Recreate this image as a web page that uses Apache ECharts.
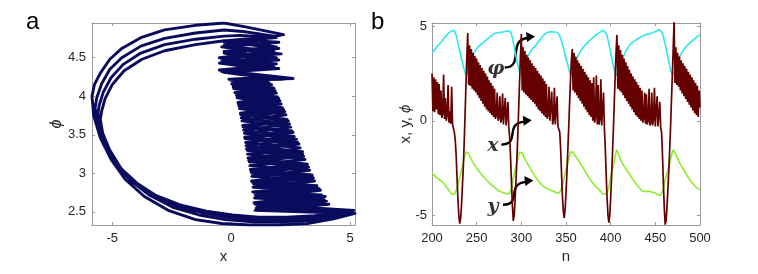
<!DOCTYPE html>
<html>
<head>
<meta charset="utf-8">
<script src="https://cdn.jsdelivr.net/npm/echarts@6/dist/echarts.min.js"></script>
<style>
html,body{margin:0;padding:0;background:#fff;}
#c{width:758px;height:274px;}
</style>
</head>
<body>
<div id="c"></div>
<script>
// ---- panel b: time series over n ----
const nStart = 200, nEnd = 500;
const n = [];
for (let k = nStart; k <= nEnd; k++) n.push(k);

const xs = [
  2.5, 0.5, 2.3, 0.45, 2.2, 0.6, 2.05, 0.35, 1.95, 0.3,
  1.6, 0.15, 0.4, 2.45, 0.1, 1.2, 0.0, 0.3, 1.9, -0.1,
  0.5, -0.15, 1.8, -0.2, -0.3, -0.6, -1.0, -1.8, -3.0, -4.1,
  -5.0, -5.45, -5.2, -4.5, -3.5, -2.5, -1.2, 0.3, 1.9, 3.4,
  4.65, 1.9, 4.0, 1.85, 3.8, 1.7, 3.6, 1.6, 3.45, 1.5,
  3.3, 1.35, 3.1, 1.2, 2.95, 1.05, 2.8, 0.9, 2.65, 0.75,
  2.5, 0.6, 2.35, 0.5, 2.15, 0.4, 2.0, 0.3, 1.85, 0.2,
  1.7, 0.1, 0.3, 1.5, 0.0, 0.2, 1.3, -0.1, 0.1, 1.45,
  -0.2, -0.1, 1.2, -0.25, -0.3, 1.0, -0.4, -0.9, -2.0, -3.3,
  -4.5, -5.3, -5.0, -4.2, -3.2, -2.1, -0.8, 0.6, 2.0, 3.4,
  4.6, 1.6, 3.9, 1.5, 3.7, 1.4, 3.5, 1.3, 3.35, 1.2,
  3.2, 1.1, 3.05, 1.0, 2.9, 0.9, 2.8, 0.75, 2.65, 0.6,
  2.5, 0.5, 2.4, 0.4, 2.25, 0.3, 2.1, 0.2, 1.95, 0.1,
  0.3, 1.8, 0.0, -0.1, 1.55, -0.2, 0.1, 1.75, -0.2, -0.25,
  1.3, -0.3, -0.3, -0.6, -1.5, -2.8, -4.0, -4.8, -5.15, -4.7,
  -3.8, -2.8, -1.6, -0.4, 0.9, 2.1, 3.2, 3.8, 1.6, 3.6,
  1.5, 3.4, 1.35, 3.2, 1.2, 3.05, 1.05, 2.9, 0.9, 2.75,
  0.75, 2.6, 0.6, 2.45, 0.45, 2.3, 0.3, 2.15, 0.2, 2.0,
  0.0, 2.3, -0.1, 0.2, 2.4, -0.2, 1.9, -0.2, 0.1, 2.2,
  -0.25, -0.3, 1.5, -0.4, -1.5, -2.9, -4.1, -5.0, -5.4, -5.0,
  -4.1, -3.0, -1.8, -0.5, 0.9, 2.3, 3.6, 4.55, 1.7, 4.0,
  1.6, 3.75, 1.5, 3.5, 1.35, 3.3, 1.2, 3.1, 1.05, 2.9,
  0.9, 2.7, 0.75, 2.5, 0.6, 2.35, 0.45, 2.2, 0.3, 2.05,
  0.2, 1.9, 0.1, 1.75, 0.0, 1.6, -0.1, 0.1, 1.5, -0.15,
  1.4, -0.2, 0.0, 1.7, -0.25, -0.1, 1.5, -0.25, 0.1, 1.75,
  -0.3, -0.2, 1.3, -0.3, -0.3, 1.0, -0.35, -0.6, -1.8, -3.3,
  -4.6, -5.5, -5.3, -4.6, -3.7, -2.7, -1.6, -0.4, 1.0, 2.4,
  3.8, 5.3, 2.0, 3.9, 1.9, 3.6, 1.8, 3.4, 1.6, 3.2,
  1.45, 3.05, 1.3, 2.9, 1.15, 2.75, 1.0, 2.6, 0.85, 2.45,
  0.7, 2.3, 0.55, 2.15, 0.4, 2.0, 0.3, 1.85, 0.2, 1.6,
  0.7
];

const ys = [
  -2.77, -2.82, -2.87, -2.92, -2.96, -3.0, -3.04, -3.08, -3.12, -3.15,
  -3.18, -3.2, -3.24, -3.3, -3.36, -3.42, -3.5, -3.56, -3.62, -3.7,
  -3.76, -3.82, -3.88, -3.92, -3.95, -3.9, -3.8, -3.7, -3.55, -3.38,
  -3.2, -3.02, -2.82, -2.6, -2.4, -2.2, -2.0, -1.82, -1.65, -1.55,
  -1.6, -1.72, -1.84, -1.95, -2.05, -2.14, -2.22, -2.3, -2.37, -2.44,
  -2.5, -2.57, -2.64, -2.7, -2.76, -2.82, -2.88, -2.93, -2.98, -3.03,
  -3.08, -3.13, -3.18, -3.23, -3.28, -3.32, -3.37, -3.41, -3.45, -3.49,
  -3.53, -3.57, -3.6, -3.66, -3.7, -3.72, -3.72, -3.75, -3.77, -3.76,
  -3.8, -3.82, -3.85, -3.86, -3.88, -3.9, -3.9, -3.85, -3.75, -3.55,
  -3.3, -3.05, -2.85, -2.62, -2.4, -2.2, -2.0, -1.82, -1.65, -1.55,
  -1.58, -1.7, -1.82, -1.93, -2.03, -2.12, -2.2, -2.28, -2.36, -2.44,
  -2.52, -2.6, -2.68, -2.76, -2.84, -2.92, -3.0, -3.06, -3.12, -3.18,
  -3.24, -3.3, -3.36, -3.4, -3.44, -3.48, -3.52, -3.55, -3.58, -3.6,
  -3.62, -3.64, -3.66, -3.68, -3.7, -3.72, -3.74, -3.76, -3.78, -3.8,
  -3.82, -3.83, -3.84, -3.8, -3.7, -3.55, -3.4, -3.2, -3.0, -2.8,
  -2.6, -2.42, -2.25, -2.05, -1.85, -1.65, -1.55, -1.58, -1.66, -1.74,
  -1.82, -1.9, -1.98, -2.05, -2.1, -2.16, -2.24, -2.32, -2.4, -2.48,
  -2.56, -2.64, -2.72, -2.8, -2.88, -2.95, -3.02, -3.1, -3.17, -3.24,
  -3.3, -3.36, -3.42, -3.47, -3.52, -3.57, -3.62, -3.65, -3.7, -3.75,
  -3.8, -3.86, -3.9, -3.9, -3.88, -3.84, -3.78, -3.7, -3.5, -3.25,
  -3.0, -2.78, -2.58, -2.4, -2.15, -1.9, -1.65, -1.53, -1.65, -1.8,
  -1.93, -2.05, -2.16, -2.25, -2.33, -2.41, -2.48, -2.55, -2.62, -2.69,
  -2.76, -2.83, -2.9, -2.97, -3.04, -3.11, -3.18, -3.25, -3.32, -3.39,
  -3.44, -3.49, -3.54, -3.6, -3.66, -3.72, -3.74, -3.75, -3.74, -3.72,
  -3.72, -3.73, -3.75, -3.76, -3.74, -3.73, -3.75, -3.78, -3.8, -3.82,
  -3.83, -3.86, -3.9, -3.93, -3.95, -3.96, -3.94, -3.85, -3.72, -3.56,
  -3.35, -3.15, -2.95, -2.78, -2.62, -2.45, -2.25, -2.05, -1.85, -1.65,
  -1.53, -1.58, -1.7, -1.8, -1.9, -2.0, -2.1, -2.2, -2.29, -2.38,
  -2.46, -2.54, -2.62, -2.7, -2.78, -2.86, -2.94, -3.01, -3.08, -3.14,
  -3.2, -3.26, -3.32, -3.38, -3.43, -3.48, -3.53, -3.57, -3.6, -3.63,
  -3.66
];

const phi = [
  3.62, 3.66, 3.71, 3.76, 3.82, 3.88, 3.94, 4.0, 4.05, 4.1,
  4.16, 4.22, 4.28, 4.34, 4.4, 4.46, 4.52, 4.57, 4.62, 4.66,
  4.7, 4.73, 4.76, 4.79, 4.8, 4.78, 4.7, 4.55, 4.35, 4.1,
  3.88, 3.7, 3.5, 3.3, 3.1, 2.9, 2.72, 2.55, 2.42, 2.35,
  2.55, 2.75, 2.93, 3.1, 3.25, 3.38, 3.5, 3.6, 3.68, 3.76,
  3.82, 3.88, 3.93, 3.98, 4.02, 4.06, 4.1, 4.14, 4.17, 4.21,
  4.25, 4.29, 4.33, 4.37, 4.41, 4.45, 4.5, 4.54, 4.57, 4.6,
  4.62, 4.64, 4.66, 4.66, 4.67, 4.66, 4.68, 4.69, 4.68, 4.7,
  4.72, 4.71, 4.73, 4.75, 4.76, 4.77, 4.76, 4.74, 4.7, 4.6,
  4.4, 4.15, 3.9, 3.65, 3.4, 3.18, 2.98, 2.8, 2.62, 2.48,
  2.38, 2.55, 2.72, 2.88, 3.02, 3.15, 3.27, 3.38, 3.48, 3.57,
  3.65, 3.72, 3.79, 3.85, 3.9, 3.95, 3.99, 4.05, 4.12, 4.18,
  4.24, 4.3, 4.36, 4.42, 4.48, 4.53, 4.58, 4.63, 4.67, 4.68,
  4.69, 4.68, 4.7, 4.71, 4.7, 4.69, 4.7, 4.71, 4.69, 4.7,
  4.68, 4.66, 4.6, 4.5, 4.38, 4.22, 4.06, 3.88, 3.68, 3.48,
  3.28, 3.15, 2.98, 2.75, 2.56, 2.42, 2.38, 2.55, 2.72, 2.88,
  3.02, 3.15, 3.27, 3.38, 3.48, 3.58, 3.66, 3.74, 3.82, 3.88,
  3.94, 3.99, 4.04, 4.09, 4.14, 4.19, 4.23, 4.28, 4.32, 4.37,
  4.41, 4.45, 4.49, 4.53, 4.57, 4.6, 4.63, 4.66, 4.68, 4.72,
  4.76, 4.79, 4.8, 4.78, 4.72, 4.62, 4.48, 4.3, 4.08, 3.85,
  3.6, 3.38, 3.15, 2.92, 2.72, 2.55, 2.42, 2.38, 2.55, 2.72,
  2.88, 3.02, 3.15, 3.27, 3.38, 3.48, 3.58, 3.67, 3.76, 3.85,
  3.93, 4.0, 4.06, 4.1, 4.14, 4.18, 4.21, 4.24, 4.27, 4.3,
  4.33, 4.36, 4.38, 4.41, 4.44, 4.46, 4.49, 4.51, 4.53, 4.55,
  4.57, 4.58, 4.6, 4.61, 4.63, 4.64, 4.65, 4.66, 4.68, 4.7,
  4.72, 4.74, 4.77, 4.8, 4.84, 4.83, 4.8, 4.74, 4.62, 4.45,
  4.25, 4.05, 3.85, 3.62, 3.38, 3.15, 2.92, 2.72, 2.55, 2.43,
  2.38, 2.55, 2.72, 2.88, 3.02, 3.15, 3.27, 3.38, 3.48, 3.57,
  3.65, 3.72, 3.79, 3.85, 3.91, 3.96, 4.01, 4.06, 4.1, 4.14,
  4.18, 4.22, 4.26, 4.3, 4.34, 4.38, 4.42, 4.46, 4.5, 4.53,
  4.57
];

// ---- panel a: phase portrait (x, phi), traced loop by loop ----
const phaseLoop1 = [
  [-0.3,4.95],[-1.5,4.92],[-2.8,4.86],[-3.8,4.76],[-4.6,4.62],[-5.1,4.48],[-5.5,4.3],[-5.75,4.15],[-5.85,4.0],
  [-5.78,3.75],[-5.5,3.46],[-5.05,3.18],[-4.45,2.92],[-3.65,2.7],[-2.65,2.52],[-1.5,2.4],[-0.4,2.35],[0.8,2.33],[2.0,2.33],[3.2,2.35],[4.3,2.41],[5.2,2.48],
  [1.0,2.52],[4.1,2.6],[0.95,2.62],[3.8,2.72],[0.9,2.76],[3.6,2.84],[0.85,2.9],[3.4,2.98],[0.8,3.05],[3.2,3.12],[0.7,3.2],[3.0,3.28],[0.62,3.36],[2.75,3.44],[0.55,3.52],[2.5,3.6],[0.45,3.68],[2.3,3.76],[0.35,3.84],[2.1,3.9],[0.25,3.98],[1.9,4.04],[0.1,4.1],[1.7,4.15],[0.0,4.2],
  [2.6,4.23],[0.6,4.3],[-0.4,4.33],[1.8,4.38],[0.3,4.42],[-0.4,4.45],[1.9,4.5],[0.5,4.55],[-0.3,4.58],[1.9,4.64],[0.6,4.7],[-0.2,4.72],[1.8,4.78],[0.5,4.84],[-0.3,4.86]
];
const phaseLoop2 = [
  [-0.3,4.85],[-1.5,4.82],[-2.8,4.75],[-3.8,4.65],[-4.6,4.5],[-5.1,4.35],[-5.45,4.16],[-5.65,3.98],[-5.72,3.85],
  [-5.62,3.64],[-5.35,3.4],[-4.88,3.14],[-4.25,2.91],[-3.45,2.72],[-2.45,2.56],[-1.35,2.46],[-0.25,2.4],[0.9,2.37],[2.1,2.37],[3.3,2.39],[4.2,2.43],[4.9,2.47],
  [1.05,2.55],[4.0,2.64],[0.98,2.68],[3.75,2.78],[0.92,2.82],[3.5,2.9],[0.86,2.96],[3.3,3.04],[0.78,3.1],[3.1,3.18],[0.68,3.25],[2.9,3.33],[0.6,3.4],[2.65,3.48],[0.52,3.56],[2.45,3.64],[0.42,3.72],[2.25,3.8],[0.32,3.87],[2.05,3.94],[0.22,4.01],[1.85,4.07],[0.08,4.12],[1.6,4.17],[-0.05,4.21],
  [2.2,4.22],[0.4,4.28],[-0.3,4.31],[2.0,4.36],[0.2,4.4],[-0.5,4.43],[2.0,4.47],[0.4,4.52],[-0.3,4.56],[2.0,4.62],[0.5,4.68],[-0.3,4.7],[1.9,4.76],[0.4,4.79]
];
const phaseLoop3 = [
  [-0.3,4.78],[-1.5,4.74],[-2.8,4.67],[-3.8,4.56],[-4.55,4.41],[-5.05,4.24],[-5.38,4.05],[-5.55,3.88],[-5.6,3.78],
  [-5.5,3.58],[-5.22,3.35],[-4.75,3.1],[-4.1,2.9],[-3.3,2.72],[-2.3,2.58],[-1.2,2.49],[-0.1,2.43],[1.0,2.4],[2.2,2.4],[3.4,2.42],[4.4,2.46],[5.05,2.5],
  [1.1,2.58],[3.9,2.66],[1.0,2.72],[3.7,2.8],[0.94,2.86],[3.45,2.94],[0.87,3.0],[3.25,3.08],[0.76,3.15],[3.05,3.22],[0.66,3.3],[2.85,3.38],[0.58,3.45],[2.6,3.53],[0.5,3.6],[2.4,3.68],[0.4,3.76],[2.2,3.83],[0.3,3.9],[2.0,3.97],[0.18,4.04],[1.8,4.1],[0.05,4.15],[1.55,4.19],[-0.08,4.22],
  [1.8,4.25],[0.2,4.3],[-0.5,4.34],[1.7,4.4],[0.3,4.45],[-0.4,4.49],[2.1,4.55],[0.5,4.6],[-0.4,4.64],[2.0,4.7],[0.4,4.73]
];
const phaseLoop4 = [
  [-0.3,4.72],[-1.5,4.67],[-2.8,4.59],[-3.75,4.48],[-4.5,4.33],[-5.0,4.15],[-5.3,3.97],[-5.45,3.8],[-5.5,3.7],
  [-5.4,3.52],[-5.1,3.3],[-4.62,3.06],[-3.95,2.87],[-3.15,2.71],[-2.15,2.59],[-1.05,2.51],[0.05,2.46],[1.15,2.43],[2.35,2.43],[3.5,2.45],[4.5,2.48],[5.15,2.52],
  [1.0,2.6],[3.95,2.7],[0.95,2.75],[3.6,2.83],[0.9,2.88],[3.4,2.96],[0.83,3.02],[3.2,3.1],[0.73,3.17],[3.0,3.25],[0.64,3.32],[2.8,3.4],[0.56,3.47],[2.55,3.55],[0.48,3.62],[2.35,3.7],[0.38,3.78],[2.15,3.85],[0.28,3.92],[1.95,3.99],[0.15,4.05],[1.75,4.11],[0.02,4.16],[1.5,4.2],[-0.1,4.22],
  [2.4,4.23],[0.3,4.29],[-0.4,4.32],[1.9,4.42],[0.2,4.47],[-0.5,4.5],[1.8,4.58],[0.4,4.63],[-0.3,4.66],[2.2,4.8],[0.6,4.9],[-0.3,4.95]
];

// tick labels
const ticksAx = [-5, 0, 5];
const ticksAy = [2.5, 3, 3.5, 4, 4.5];
const ticksBy = [-5, 0, 5];

// annotations in panel b: labels at [n, value], arrows [n0, v0, n1, v1]
const annLabels = [
  { text: 'φ', at: [271.5, 2.75] },
  { text: 'x', at: [268.3, -1.33] },
  { text: 'y', at: [268.3, -4.55] }
];
const annArrows = [
  [281.4, 2.82, 313.1, 4.41],
  [277.6, -1.26, 309.4, -0.02],
  [279.5, -4.45, 311.2, -3.21]
];

// ---- chart ----
const AX = '#9a9a9a', TXT = '#262626', FONT = 'Liberation Sans, Arial, sans-serif';

function mkAxis(o) {
  const base = {
    type: 'value',
    gridIndex: o.grid,
    min: o.min, max: o.max,
    position: o.position,
    splitLine: { show: false },
    axisLine: { show: true, onZero: false, lineStyle: { color: AX, width: 1 } },
    axisTick: { show: true, inside: true, length: 3, lineStyle: { color: AX } },
    axisLabel: { show: !!o.labels, color: TXT, fontSize: 13, fontFamily: FONT, margin: o.margin || 6 }
  };
  if (o.interval) base.interval = o.interval;
  if (o.ticks) {
    base.axisTick.customValues = o.ticks;
    base.axisLabel.customValues = o.ticks;
  }
  if (o.name) {
    base.name = o.name;
    base.nameLocation = 'middle';
    base.nameGap = o.nameGap;
    base.nameMoveOverlap = false;
    base.nameTextStyle = Object.assign({ color: TXT, fontSize: 15, fontFamily: FONT }, o.nameStyle || {});
  }
  return base;
}

const chart = echarts.init(document.getElementById('c'), null, { renderer: 'canvas' });

const phaseData = [].concat(phaseLoop1, phaseLoop2, phaseLoop3, phaseLoop4);

const option = {
  animation: false,
  backgroundColor: '#ffffff',
  grid: [
    { left: 92, top: 23, width: 263, height: 202 },
    { left: 432, top: 23, width: 268, height: 202 }
  ],
  xAxis: [
    mkAxis({ grid: 0, min: -5.85, max: 5.2, position: 'bottom', ticks: ticksAx, labels: true, margin: 7, name: 'x', nameGap: 24 }),
    mkAxis({ grid: 0, min: -5.85, max: 5.2, position: 'top', ticks: ticksAx, labels: false }),
    mkAxis({ grid: 1, min: 200, max: 500, position: 'bottom', interval: 50, labels: true, margin: 7, name: 'n', nameGap: 24 }),
    mkAxis({ grid: 1, min: 200, max: 500, position: 'top', interval: 50, labels: false })
  ],
  yAxis: [
    mkAxis({ grid: 0, min: 2.33, max: 4.95, position: 'left', ticks: ticksAy, labels: true, margin: 6,
      name: 'ϕ', nameGap: 27, nameStyle: { fontStyle: 'italic', fontSize: 16 } }),
    mkAxis({ grid: 0, min: 2.33, max: 4.95, position: 'right', ticks: ticksAy, labels: false }),
    mkAxis({ grid: 1, min: -5.52, max: 5.18, position: 'left', ticks: ticksBy, labels: true, margin: 5,
      name: 'x, y, {i|ϕ}', nameGap: 19,
      nameStyle: { rich: { i: { fontStyle: 'italic', fontSize: 15, color: TXT, fontFamily: FONT } } } }),
    mkAxis({ grid: 1, min: -5.52, max: 5.18, position: 'right', ticks: ticksBy, labels: false })
  ],
  graphic: [
    { type: 'text', left: 26, top: 10, style: { text: 'a', fontSize: 24, fontFamily: FONT, fill: '#000' } },
    { type: 'text', left: 371, top: 10, style: { text: 'b', fontSize: 24, fontFamily: FONT, fill: '#000' } }
  ],
  series: [
    {
      type: 'line', xAxisIndex: 0, yAxisIndex: 0,
      data: phaseData,
      showSymbol: false, symbol: 'none', clip: true,
      lineStyle: { color: '#0b0b5e', width: 2.9, join: 'round' }
    },
    {
      type: 'line', xAxisIndex: 2, yAxisIndex: 2,
      data: n.map((k, i) => [k, phi[i]]),
      showSymbol: false, symbol: 'none', clip: true,
      lineStyle: { color: '#2ee6f2', width: 1.6 }
    },
    {
      type: 'line', xAxisIndex: 2, yAxisIndex: 2,
      data: n.map((k, i) => [k, ys[i]]),
      showSymbol: false, symbol: 'none', clip: true,
      lineStyle: { color: '#8fec2c', width: 1.6 }
    },
    {
      type: 'line', xAxisIndex: 2, yAxisIndex: 2,
      data: n.map((k, i) => [k, xs[i]]),
      showSymbol: false, symbol: 'none', clip: true,
      lineStyle: { color: '#640000', width: 1.7 }
    },
    {
      type: 'custom', coordinateSystem: 'cartesian2d', xAxisIndex: 2, yAxisIndex: 2, silent: true,
      data: annArrows,
      renderItem: function (params, api) {
        const p0 = api.coord([api.value(0), api.value(1)]);
        const p1 = api.coord([api.value(2), api.value(3)]);
        const dx = p1[0] - p0[0];
        const ex = p1[0] - 5;
        return {
          type: 'group',
          children: [
            { type: 'bezierCurve',
              shape: { x1: p0[0], y1: p0[1], x2: ex, y2: p1[1] + 0.5,
                       cpx1: p0[0] + dx * 0.7, cpy1: p0[1], cpx2: ex - dx * 0.75, cpy2: p1[1] + 2 },
              style: { stroke: '#000', lineWidth: 2.4, fill: null } },
            { type: 'polygon',
              shape: { points: [[p1[0] + 2, p1[1] - 1], [p1[0] - 7, p1[1] - 5.5], [p1[0] - 6, p1[1] + 4.5]] },
              style: { fill: '#000' } }
          ]
        };
      }
    },
    {
      type: 'scatter', xAxisIndex: 2, yAxisIndex: 2, silent: true,
      symbolSize: 0,
      data: annLabels.map(a => ({ value: a.at, name: a.text })),
      label: {
        show: true, position: 'inside', formatter: p => p.name,
        fontFamily: 'DejaVu Serif, Liberation Serif, serif', fontStyle: 'italic', fontWeight: 'bold',
        fontSize: 19, color: '#000'
      }
    }
  ]
};
chart.setOption(option);
</script>
</body>
</html>
